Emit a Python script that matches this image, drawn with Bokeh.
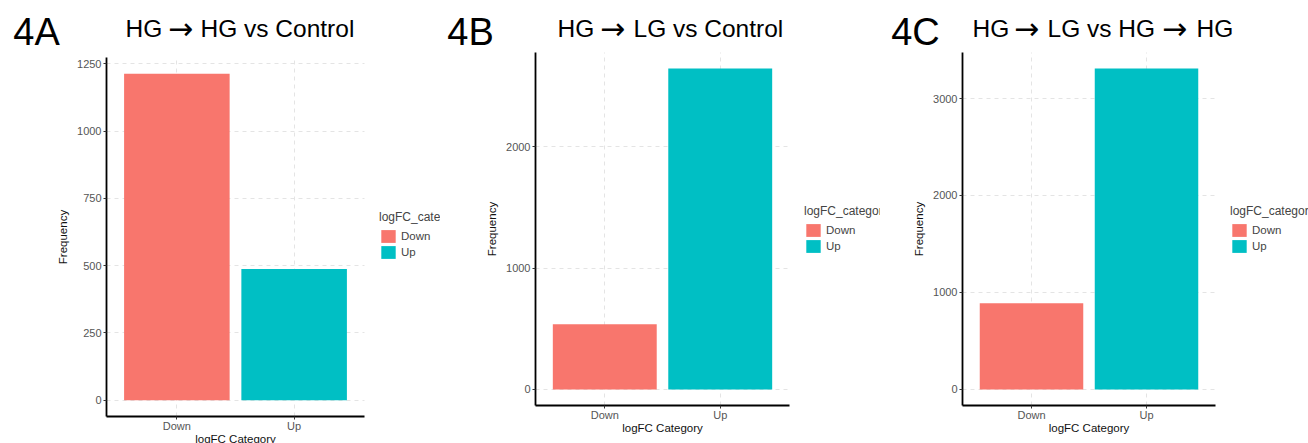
from bokeh.plotting import figure
from bokeh.layouts import row
from bokeh.models import Range1d, FixedTicker, Label, ColumnDataSource, Grid, LinearAxis
from bokeh.embed import file_html
from bokeh.resources import INLINE

# ---- data -------------------------------------------------------------
categories = ["Down", "Up"]
bar_colors = ["#F8766D", "#00BFC4"]

panel_tags = ["4A", "4B", "4C"]
panel_titles = ["HG \u2192 HG vs Control", "HG \u2192 LG vs Control", "HG \u2192 LG vs HG \u2192 HG"]

freq_4A = [1213, 488]
freq_4B = [537, 2645]
freq_4C = [889, 3309]

ticks_4A = [0, 250, 500, 750, 1000, 1250]
ticks_4B = [0, 1000, 2000]
ticks_4C = [0, 1000, 2000, 3000]

x_title = "logFC Category"
y_title = "Frequency"
legend_title = "logFC_category"

ARROW = "\u2192"
FONT = "Liberation Sans"
ARROW_FONT = "DejaVu Sans"
H = 443

# panel geometry in canvas pixels: plotting box, tag centre, title baseline and
# piece anchors, legend bottom-left corner
layouts = [
    dict(width=440, left=106, right=364, top=57, bottom=416,
         tag=(36, 31), title_y=27.5, title_x=[125, 180, 200], legend=(379, 260)),
    dict(width=440, left=95, right=349, top=52, bottom=405,
         tag=(30, 31), title_y=27.5, title_x=[117, 172, 193], legend=(364, 254)),
    dict(width=428, left=82, right=335, top=52, bottom=405,
         tag=(35, 31), title_y=28, title_x=[92, 146, 167, 294, 316], legend=(350, 254)),
]


def make_panel(tag, title, freqs, ticks, geo):
    W = geo["width"]
    n = len(categories)
    xpos = list(range(1, n + 1))
    # ggplot-like expansion of the plotting box
    x_lo, x_hi = 0.4, n + 0.6
    ymax = max(freqs)
    y_lo, y_hi = -0.05 * ymax, 1.05 * ymax

    # extend the ranges so that the plotting box lands at its pixel position
    sx = (geo["right"] - geo["left"]) / (x_hi - x_lo)
    sy = (geo["bottom"] - geo["top"]) / (y_hi - y_lo)
    x_range = Range1d(x_lo - geo["left"] / sx, x_hi + (W - geo["right"]) / sx)
    y_range = Range1d(y_lo - (H - geo["bottom"]) / sy, y_hi + geo["top"] / sy)

    src = ColumnDataSource(dict(x=xpos, cat=categories, freq=freqs, color=bar_colors))
    p = figure(
        width=W, height=H, title=None,
        x_range=x_range, y_range=y_range,
        output_backend="svg", toolbar_location=None,
        x_axis_location=None, y_axis_location=None,
        min_border=0,
    )
    p.min_border_left = p.min_border_right = p.min_border_top = p.min_border_bottom = 0
    p.outline_line_color = None
    p.background_fill_color = "white"
    p.border_fill_color = "white"
    # drop the default full-width grids
    p.center = [r for r in p.center if not isinstance(r, Grid)]

    # dashed grid limited to the plotting box
    gx = Grid(dimension=0, ticker=FixedTicker(ticks=xpos))
    gy = Grid(dimension=1, ticker=FixedTicker(ticks=ticks))
    for g, cb in ((gx, (y_lo, y_hi)), (gy, (x_lo, x_hi))):
        g.grid_line_color = "#e4e4e4"
        g.grid_line_dash = "4 4"
        g.grid_line_width = 1
        if "cross_bounds" in g.properties():
            g.cross_bounds = cb
        p.add_layout(g)

    p.vbar(x="x", top="freq", width=0.9, source=src,
           fill_color="color", line_color=None, legend_field="cat")

    # axes pinned to the edges of the plotting box
    xaxis = LinearAxis(fixed_location=y_lo, bounds=(x_lo, x_hi),
                       ticker=FixedTicker(ticks=xpos),
                       major_label_overrides={i: c for i, c in zip(xpos, categories)},
                       axis_label=x_title)
    yaxis = LinearAxis(fixed_location=x_lo, bounds=(y_lo, y_hi),
                       ticker=FixedTicker(ticks=ticks), axis_label=y_title)
    for ax in (xaxis, yaxis):
        ax.axis_line_color = "black"
        ax.axis_line_width = 1.8
        ax.major_tick_line_color = "#333333"
        ax.major_tick_out = 3
        ax.major_tick_in = 0
        ax.minor_tick_line_color = None
        ax.major_label_text_font = FONT
        ax.major_label_text_font_size = "11px"
        ax.major_label_text_color = "#555555"
        ax.major_label_standoff = 2
        ax.axis_label_text_font = FONT
        ax.axis_label_text_font_size = "11.5px"
        ax.axis_label_text_font_style = "normal"
        ax.axis_label_text_color = "#111111"
    xaxis.major_label_standoff = 0
    xaxis.axis_label_standoff = -2
    yaxis.axis_label_standoff = 5
    p.add_layout(xaxis, "below")
    p.add_layout(yaxis, "left")

    # legend
    leg = p.legend[0]
    lx, ly = geo["legend"]
    leg.location = (lx, H - ly)
    leg.title = legend_title
    leg.title_text_font = FONT
    leg.title_text_font_size = "12px"
    leg.title_text_font_style = "normal"
    leg.title_standoff = 4
    leg.label_text_font = FONT
    leg.label_text_font_size = "11.5px"
    leg.glyph_width = 18
    leg.glyph_height = 16
    leg.spacing = 0
    leg.padding = 0
    leg.margin = 0
    leg.label_standoff = 4
    leg.border_line_color = None
    leg.background_fill_alpha = 0

    def add_text(txt, x, y, size, align, baseline, font=FONT):
        p.add_layout(Label(
            x=x, y=H - y, x_units="screen", y_units="screen",
            text=txt, text_align=align, text_baseline=baseline,
            text_font=font, text_font_size=size, text_color="black",
        ))

    # panel tag
    add_text(tag, geo["tag"][0], geo["tag"][1], "38px", "center", "middle")

    # title: words in the body font, arrows set larger in a second font
    pieces = []
    for i, part in enumerate(title.split(ARROW)):
        if i:
            pieces.append(ARROW)
        pieces.append(part.strip())
    for piece, x in zip(pieces, geo["title_x"]):
        if piece == ARROW:
            add_text(piece, x, geo["title_y"], "30px", "center", "alphabetic", ARROW_FONT)
        else:
            add_text(piece, x, geo["title_y"], "24.5px", "left", "alphabetic")
    return p


panels = [
    make_panel(panel_tags[0], panel_titles[0], freq_4A, ticks_4A, layouts[0]),
    make_panel(panel_tags[1], panel_titles[1], freq_4B, ticks_4B, layouts[1]),
    make_panel(panel_tags[2], panel_titles[2], freq_4C, ticks_4C, layouts[2]),
]

page = row(*panels, spacing=0)
open("out.html", "w").write(file_html(page, INLINE))
